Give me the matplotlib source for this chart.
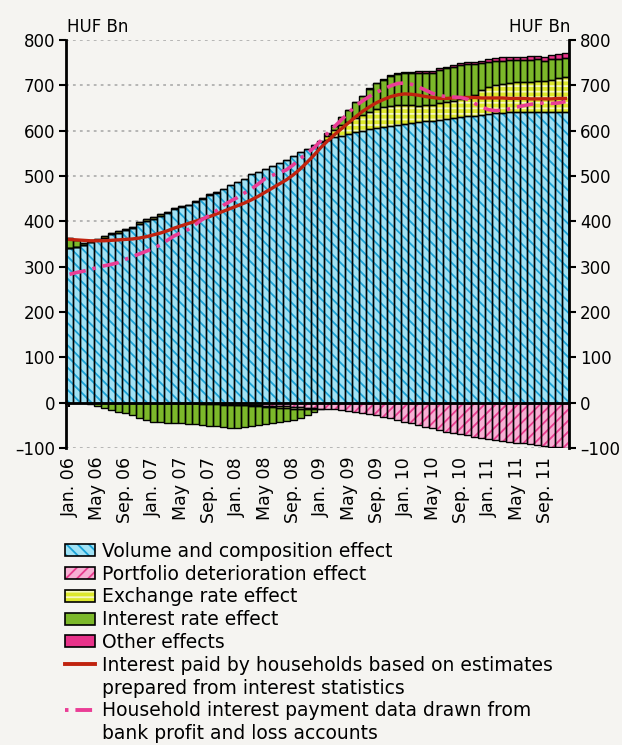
import matplotlib
matplotlib.use("Agg")
import matplotlib.pyplot as plt
import matplotlib.patches as mpatches
import matplotlib.lines as mlines
from matplotlib.ticker import FuncFormatter
import numpy as np

# monthly data, Jan 2006 - Dec 2011 (HUF Bn)
volume = [340, 344, 348, 354, 358, 364, 371, 375, 380, 385,
          395, 401, 406, 412, 418, 426, 431, 435, 443, 449,
          458, 463, 471, 480, 487, 494, 505, 509, 516, 523,
          528, 536, 545, 553, 560, 568, 574, 580, 585, 589,
          592, 596, 600, 603, 606, 609, 611, 613, 615, 617,
          619, 621, 622, 624, 626, 628, 631, 632, 633, 635,
          637, 638, 639, 640, 640, 641, 641, 641, 642, 642, 642, 642]
portfolio = [0, 0, 0, 0, 0, 0, 0, 0, 0, 0,
             0, 0, 0, 0, -1, -1, -1, -1, -1, -2,
             -2, -3, -4, -4, -5, -5, -6, -6, -7, -7,
             -8, -8, -9, -10, -11, -12, -13, -14, -15, -16,
             -18, -20, -22, -25, -28, -31, -34, -38, -42, -46,
             -50, -53, -57, -60, -64, -67, -69, -72, -75, -78,
             -81, -83, -85, -87, -89, -90, -92, -94, -95, -97, -98, -100]
exchange = [0, 0, 0, 1, 2, 4, 3, 3, 3, 3,
            4, 4, 4, 4, 3, 3, 3, 2, 2, 2,
            2, 1, -1, -1, -1, -1, -2, -2, -2, -3,
            -4, -4, -4, -3, -2, -1, 2, 8, 16, 24,
            28, 32, 35, 38, 41, 44, 44, 43, 42, 39,
            36, 35, 35, 36, 37, 38, 39, 41, 46, 54,
            60, 62, 64, 66, 67, 67, 67, 69, 67, 70, 74, 77]
interest = [24, 15, 5, -3, -8, -12, -17, -20, -23, -28,
            -34, -38, -42, -43, -43, -44, -45, -46, -47, -47,
            -49, -49, -48, -51, -49, -47, -43, -41, -38, -35,
            -31, -29, -25, -20, -14, -7, -1, 5, 10, 16,
            25, 35, 41, 51, 57, 58, 66, 68, 69, 70,
            72, 71, 70, 73, 75, 75, 75, 75, 69, 61,
            55, 54, 51, 50, 49, 48, 48, 47, 45, 45, 41, 41]
other = [0, 0, 0, 0, 0, 0, 0, 0, 0, 0,
         0, 0, 0, 0, 0, 0, 0, 0, 0, 0,
         0, 0, 0, 0, 0, 0, 0, 0, 0, 0,
         0, 0, 0, 0, 0, 0, 0, 1, 1, 1,
         1, 1, 1, 2, 2, 2, 2, 3, 3, 3,
         4, 4, 5, 4, 3, 4, 4, 3, 4, 4,
         6, 7, 8, 7, 7, 7, 8, 8, 9, 9, 11, 12]
paid_est = [360, 359, 358, 357, 357, 357, 358, 359, 360, 361,
            363, 366, 370, 374, 379, 385, 390, 395, 400, 405,
            410, 416, 422, 428, 434, 440, 447, 455, 464, 473,
            482, 491, 502, 515, 530, 546, 563, 578, 592, 605,
            618, 631, 643, 653, 662, 669, 675, 679, 681, 680,
            678, 675, 673, 671, 671, 672, 673, 673, 673, 672,
            672, 672, 672, 671, 671, 671, 670, 670, 670, 670, 671, 671]
paid_pl = [283, 287, 290, 294, 298, 302, 305, 309, 316, 322,
           328, 334, 340, 348, 358, 368, 375, 382, 393, 404,
           413, 423, 435, 444, 452, 462, 471, 482, 494, 501,
           507, 513, 524, 538, 550, 562, 578, 595, 610, 625,
           640, 655, 666, 676, 685, 692, 699, 704, 705, 702,
           696, 689, 682, 677, 675, 674, 673, 669, 660, 652,
           646, 644, 645, 648, 652, 655, 658, 660, 661, 660, 661, 664]

tick_labels = ["Jan. 06", "May 06", "Sep. 06", "Jan. 07", "May 07", "Sep. 07",
               "Jan. 08", "May 08", "Sep. 08", "Jan. 09", "May 09", "Sep. 09",
               "Jan. 10", "May 10", "Sep. 10", "Jan. 11", "May 11", "Sep. 11"]

plt.rcParams['font.family'] = 'DejaVu Sans'
plt.rcParams['hatch.linewidth'] = 1.3
plt.rcParams['lines.scale_dashes'] = False

bg = '#f5f4f1'
fig = plt.figure(figsize=(6.22, 7.45), dpi=100, facecolor=bg)
ax = fig.add_axes([0.1061, 0.3987, 0.8087, 0.5477])
ax.set_facecolor(bg)

n = len(volume)
x = np.arange(n)

# (values, face colour, hatch colour, hatch)
series = [
    (volume, '#a0e2f5', '#1aa2d6', '\\\\\\'),
    (portfolio, '#f7b0d4', '#e83c8e', '///'),
    (exchange, '#dde82c', '#f6f8c0', '---'),
    (interest, '#7cb82a', '#7cb82a', None),
    (other, '#e8338a', '#e8338a', None),
]

pos_base = np.zeros(n)
neg_base = np.zeros(n)
for vals, face, hcol, hatch in series:
    v = np.array(vals, dtype=float)
    bottom = np.where(v >= 0, pos_base, neg_base)
    ax.bar(x, v, width=1.0, bottom=bottom, color=face, edgecolor=hcol,
           hatch=hatch, linewidth=0, zorder=2)
    ax.bar(x, v, width=1.0, bottom=bottom, fill=False, edgecolor='black',
           linewidth=1.0, zorder=2.1)
    pos_base += np.where(v > 0, v, 0)
    neg_base += np.where(v < 0, v, 0)

ax.plot(x, paid_est, color='#c0230f', lw=2.4, zorder=4)
pl_style = (0, (12, 5, 2.5, 5))
ax.plot(x, paid_pl, color='#ea3d95', lw=2.6, linestyle=pl_style, zorder=5)

ax.set_xlim(-0.5, n - 0.5)
ax.set_ylim(-100, 800)
ax.set_yticks(np.arange(-100, 801, 100))
ax.yaxis.set_major_formatter(FuncFormatter(lambda v, p: f'{v:.0f}'.replace('-', '\u2013')))
ax.yaxis.grid(True, linestyle=(0, (2, 3)), color='#a5a5a5', lw=1.1)
ax.set_axisbelow(True)

ax.spines['top'].set_visible(False)
ax.spines['bottom'].set_position(('data', 0))
for s in ['bottom', 'left', 'right']:
    ax.spines[s].set_linewidth(2)
    ax.spines[s].set_zorder(6)

ax.tick_params(axis='y', left=True, right=True, labelleft=True, labelright=True,
               direction='out', length=5, width=1.5, labelsize=12, pad=3)
ax.set_xticks(x[::4], tick_labels, rotation=90)
ax.tick_params(axis='x', direction='out', length=3, width=1.5, labelsize=12.5, pad=36)

fig.text(67 / 622, 1 - 32 / 745, 'HUF Bn', fontsize=12, ha='left', va='baseline')
fig.text(570 / 622, 1 - 32 / 745, 'HUF Bn', fontsize=12, ha='right', va='baseline')

def patch_handle(face, hcol, hatch):
    return (mpatches.Patch(facecolor=face, edgecolor=hcol, hatch=hatch, lw=0),
            mpatches.Patch(fill=False, edgecolor='black', lw=1.2))

blank = mlines.Line2D([], [], linestyle='none')
handles = [patch_handle(f, h, ht) for _, f, h, ht in series]
handles += [mlines.Line2D([], [], color='#c0230f', lw=2.8), blank,
            mlines.Line2D([], [], color='#ea3d95', lw=2.8, linestyle=(17, (12, 5, 2.5, 5))), blank]
labels = ['Volume and composition effect', 'Portfolio deterioration effect',
          'Exchange rate effect', 'Interest rate effect', 'Other effects',
          'Interest paid by households based on estimates',
          'prepared from interest statistics',
          'Household interest payment data drawn from',
          'bank profit and loss accounts']
fig.legend(handles, labels, loc='upper left', bbox_to_anchor=(65 / 622, 1 - 542 / 745),
           frameon=False, fontsize=13.5, borderpad=0, borderaxespad=0,
           handlelength=1.6, handleheight=0.6, handletextpad=0.35, labelspacing=0.2)

fig.savefig('out.png', dpi=100, facecolor=bg)
